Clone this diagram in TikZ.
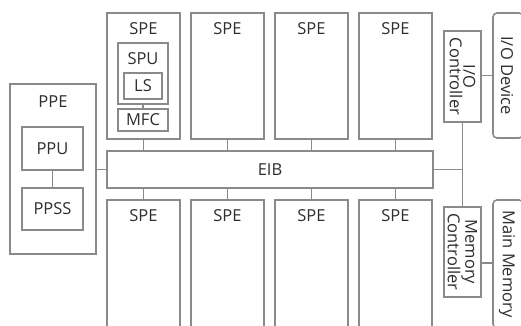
\documentclass[tikz,border=0pt]{standalone}
\usepackage{fontspec}
\setmainfont{Open Sans}
\usetikzlibrary{positioning}
\definecolor{mygray}{RGB}{138,138,138}
\definecolor{mytext}{RGB}{45,45,45}

\tikzset{
  blk/.style={draw=mygray, line width=1.6pt, inner sep=0pt, outer sep=0pt, anchor=north west,
    text=mytext, font=\fontsize{16.5}{13.5}\selectfont},
  txt/.style={text=mytext, inner sep=0pt, font=\fontsize{16.5}{13.5}\selectfont},
  wire/.style={draw=mygray, line width=1.6pt},
}

\begin{document}
\begin{tikzpicture}[x=1pt,y=-1pt]
  \def\W{73pt}
  \def\dx{84}
  \useasboundingbox (0,0) rectangle (521,325);
  \clip (0,0) rectangle (521,325);

%EIB:
  \node[blk, minimum width=326pt, minimum height=37pt] (eib) at (107,151) {EIB};

%SPEs above and below the bus:
  \foreach \i in {1,...,4}{
    \pgfmathsetmacro{\xx}{107+\dx*(\i-1)}
    \node[blk, minimum width=\W, minimum height=126pt] (spt\i) at (\xx,13) {};
    \node[txt] (spt\i l) at ([yshift=-16pt]spt\i.north) {SPE};
    \draw[wire] (spt\i.south) -- (spt\i.south |- eib.north);
    \node[blk, minimum width=\W, minimum height=150pt] (spb\i) at (\xx,200) {};
    \node[txt] (spb\i l) at ([yshift=-16pt]spb\i.north) {SPE};
    \draw[wire] (spb\i.north) -- (spb\i.north |- eib.south);
  }

%inside the first SPE:
  \node[blk, minimum width=50pt, minimum height=61pt] (spu) at (118,43) {};
  \node[txt] (spul) at ([yshift=-16pt]spu.north) {SPU};
  \node[blk, minimum width=38pt, minimum height=26pt] (ls) at (124,73) {LS};
  \node[blk, minimum width=50pt, minimum height=22pt] (mfc) at (118,109) {MFC};
  \draw[wire] (spu) -- (mfc);

%PPE:
  \node[blk, minimum width=86pt, minimum height=170pt] (ppe) at (10,84) {};
  \node[txt] (ppel) at ([yshift=-17.5pt]ppe.north) {PPE};
  \node[blk, minimum width=61pt, minimum height=43pt] (ppu) at (22,127) {PPU};
  \node[blk, minimum width=61pt, minimum height=42pt] (ppss) at (22,188) {PPSS};
  \draw[wire] (ppu) -- (ppss);
  \draw[wire] (eib.west) -- (eib.west -| ppe.east);

%controllers and outside world:
  \node[blk, minimum width=37pt, minimum height=91pt] (ioc) at (444,31) {};
  \node[txt, rotate=-90, align=center] (iocl) at (ioc) {I/O\\Controller};
  \node[blk, minimum width=37pt, minimum height=90pt] (mc) at (444,207) {};
  \node[txt, rotate=-90, align=center] (mcl) at (mc) {Memory\\Controller};
  \node[blk, rounded corners=4pt, minimum width=30pt, minimum height=125pt] (iod) at (493,13) {};
  \node[txt, rotate=-90] (iodl) at ([xshift=-1pt]iod.center) {I/O Device};
  \node[blk, rounded corners=4pt, minimum width=30pt, minimum height=128pt] (mm) at (493,200) {};
  \node[txt, rotate=-90] (mml) at ([xshift=-1pt]mm.center) {Main Memory};
  \draw[wire] (ioc) -- (mc);
  \draw[wire] (eib.east) -- (eib.east -| ioc);
  \draw[wire] (iod.west) -- (iod.west -| ioc.east);
  \draw[wire] ([yshift=-63pt]mm.north west) -- ([yshift=-63pt]mm.north west -| mc.east);
%%%%%%
\end{tikzpicture}
\end{document}
